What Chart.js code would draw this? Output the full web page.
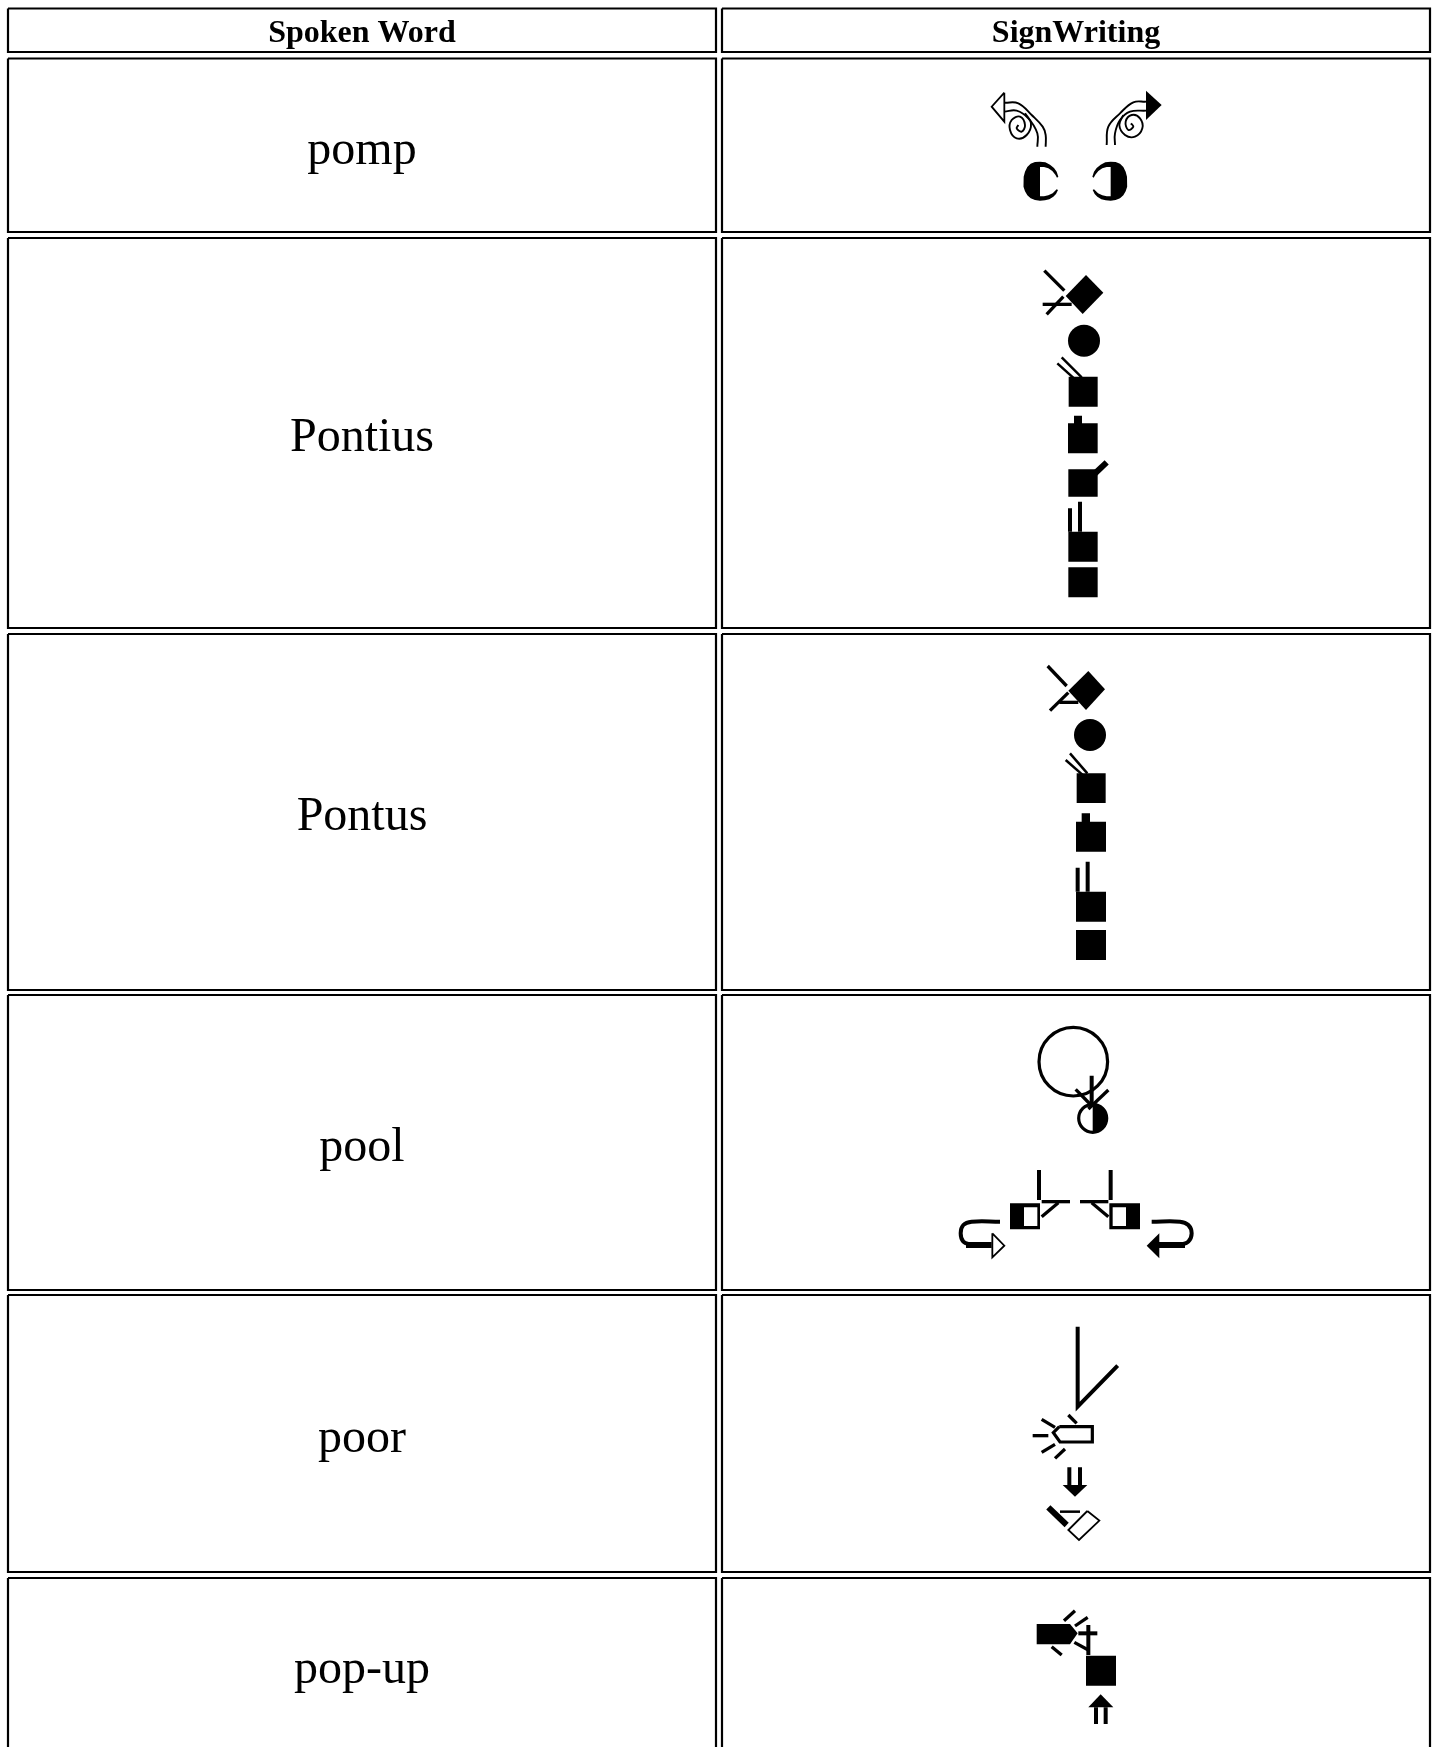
<!DOCTYPE html>
<html lang="en">
<head>
    <meta charset="UTF-8">
    <title>Spoken Word / SignWriting</title>
    <script src="https://cdn.jsdelivr.net/npm/chart.js"></script>
    <style>
        html, body { margin: 0; padding: 0; background: #fff; }
        canvas { display: block; }
    </style>
</head>
<body>
    <canvas id="signChart" width="1435" height="1747"></canvas>

    <script>
        // table text
        const headers = ['Spoken Word', 'SignWriting'];
        const words = ['pomp', 'Pontius', 'Pontus', 'pool', 'poor', 'pop-up'];
        const headerBaseline = 41.5;
        const wordBaselines = [164, 451, 830, 1161, 1452, 1683];

        // cell edges, last row runs off the page
        const colLeft = [8, 722];
        const colRight = [716, 1430];
        const rowTop = [8.5, 58.5, 238, 634, 995, 1295, 1578];
        const rowBottom = [52, 232, 628, 990, 1290, 1572, 1790];

        function c(ox, oy, ...n) {
            const pts = [];
            for (let i = 0; i < n.length; i += 2) pts.push([ox + n[i] / 3, oy + n[i + 1] / 3]);
            return pts;
        }
        function r(ox, oy, x1, y1, x2, y2) {
            return c(ox, oy, x1, y1, x2, y1, x2, y2, x1, y2);
        }

        const solidShapes = [
            // pomp
            c(960, 70, 558, 62, 605, 105, 558, 150),
            c(960, 70, 240, 275, 225, 276, 212, 281, 202, 291, 195, 305, 191, 320, 190, 335, 191, 350, 195, 364, 202, 376, 212, 385, 225, 390, 240, 392, 255, 391, 268, 388, 280, 380, 288, 372, 294, 360, 290, 358, 278, 370, 265, 376, 252, 379, 240, 379, 240, 291, 252, 291, 265, 295, 277, 303, 286, 314, 291, 323, 295, 320, 290, 305, 282, 294, 270, 284, 256, 277),
            c(960, 70, 452, 275, 467, 276, 480, 281, 490, 291, 497, 305, 501, 320, 502, 335, 501, 350, 497, 364, 490, 376, 480, 385, 467, 390, 452, 392, 437, 391, 424, 388, 412, 380, 404, 372, 398, 360, 402, 358, 414, 370, 427, 376, 440, 379, 452, 379, 452, 291, 440, 291, 427, 295, 415, 303, 406, 314, 401, 323, 397, 320, 402, 305, 410, 294, 422, 284, 436, 277),
            // Pontius
            c(1000, 250, 258, 75, 310, 128, 248, 192, 197, 138),
            r(1000, 250, 206, 380, 293, 470),
            r(1000, 250, 222, 497, 246, 525),
            r(1000, 250, 204, 520, 293, 610),
            r(1000, 430, 205, 118, 293, 200),
            r(1000, 430, 205, 305, 293, 395),
            r(1000, 430, 205, 412, 293, 502),
            // Pontus
            c(1000, 650, 265, 63, 315, 118, 258, 180, 205, 122),
            r(1000, 650, 230, 370, 317, 459),
            r(1000, 800, 245, 40, 270, 70),
            r(1000, 800, 228, 65, 318, 155),
            r(1000, 800, 228, 275, 318, 365),
            r(1000, 800, 228, 390, 318, 480),
            // pool, half of the small circle
            c(1010, 1010, 248, 281, 266, 284, 281, 295, 290, 310, 292, 325, 290, 340, 281, 355, 266, 366, 248, 369),
            r(940, 1150, 210, 160, 300, 238),
            r(940, 1150, 508, 160, 600, 238),
            c(940, 1150, 658, 250, 620, 287, 658, 325),
            // poor
            c(1010, 1430, 158, 165, 232, 165, 195, 200),
            // pop-up
            c(1010, 1600, 80, 72, 180, 72, 203, 100, 180, 133, 80, 133),
            r(1010, 1600, 228, 167, 318, 257),
            c(1010, 1600, 235, 322, 272, 283, 310, 322)
        ];

        const whiteShapes = [
            r(940, 1150, 252, 172, 292, 228),
            r(940, 1150, 518, 172, 558, 228)
        ];

        // white inside, thin outline
        const outlinedShapes = [
            c(960, 70, 133, 68, 95, 110, 133, 155),
            c(940, 1150, 157, 250, 193, 287, 157, 322),
            c(1010, 1430, 232, 243, 268, 272, 207, 330, 175, 300)
        ];
        const outlinedHeavy = [
            c(1010, 1310, 148, 350, 247, 350, 247, 396, 150, 396, 130, 368)
        ];

        const thinCurves = [
            // left turn of the pomp arrow
            c(960, 70, 133, 98, 175, 100, 215, 135, 248, 170, 257, 195, 257, 230),
            c(960, 70, 133, 125, 170, 122, 205, 145, 232, 190, 232, 230),
            c(960, 70, 195, 130, 213, 160, 200, 195, 170, 205, 150, 180, 155, 150, 180, 140, 195, 165, 185, 185, 170, 175, 175, 165),
            // right turn
            c(960, 70, 558, 95, 520, 97, 480, 130, 445, 170, 440, 225),
            c(960, 70, 558, 122, 510, 125, 480, 150, 465, 190, 465, 225),
            c(960, 70, 490, 135, 478, 165, 495, 195, 525, 200, 547, 175, 540, 145, 515, 135, 497, 155, 505, 180, 520, 170, 513, 160)
        ];

        const thinLines = [
            c(1000, 250, 172, 340, 222, 385),
            c(1000, 250, 185, 322, 245, 382),
            c(1000, 650, 197, 330, 247, 374),
            c(1000, 650, 210, 310, 262, 370),
            c(1010, 1430, 150, 245, 210, 245)
        ];

        const midLines = [
            c(1000, 250, 133, 62, 193, 122),
            c(1000, 250, 128, 163, 215, 163),
            c(1000, 250, 140, 193, 190, 140),
            c(1000, 650, 143, 48, 200, 108),
            c(1000, 650, 150, 182, 205, 128),
            c(1000, 650, 178, 157, 235, 157),
            c(1010, 1010, 197, 238, 240, 282),
            c(1010, 1010, 295, 240, 235, 297),
            c(940, 1150, 305, 155, 390, 155),
            c(940, 1150, 305, 200, 355, 158),
            c(940, 1150, 420, 155, 505, 155),
            c(940, 1150, 505, 200, 455, 158),
            c(1010, 1310, 95, 328, 135, 352),
            c(1010, 1310, 175, 315, 200, 340),
            c(1010, 1430, 68, 17, 115, 17),
            c(1010, 1430, 95, 67, 135, 43),
            c(1010, 1430, 135, 85, 165, 57),
            c(1010, 1600, 162, 62, 195, 32),
            c(1010, 1600, 195, 78, 233, 52),
            c(1010, 1600, 193, 127, 235, 150),
            c(1010, 1600, 125, 140, 155, 165)
        ];

        const boldLines = [
            c(1000, 430, 210, 235, 210, 305),
            c(1000, 430, 240, 215, 240, 305),
            c(1000, 800, 233, 203, 233, 275),
            c(1000, 800, 263, 185, 263, 275),
            c(1010, 1010, 245, 197, 245, 290),
            c(940, 1150, 297, 60, 297, 150),
            c(940, 1150, 512, 60, 512, 150),
            c(1010, 1310, 203, 50, 203, 290, 323, 167),
            c(1010, 1430, 178, 112, 178, 165),
            c(1010, 1430, 210, 112, 210, 165),
            c(1010, 1600, 235, 75, 235, 165),
            c(1010, 1600, 205, 100, 262, 100),
            c(1010, 1600, 258, 322, 258, 372),
            c(1010, 1600, 287, 322, 287, 372)
        ];

        const curvedBold = [
            c(940, 1150, 180, 215, 95, 215, 70, 225, 62, 250, 70, 275, 95, 285),
            c(940, 1150, 635, 215, 720, 215, 745, 225, 755, 250, 745, 275, 720, 285)
        ];

        const heavyLines = [
            c(1000, 430, 280, 135, 320, 97),
            c(940, 1150, 78, 285, 155, 285),
            c(940, 1150, 735, 285, 650, 285),
            c(1010, 1430, 115, 232, 170, 285)
        ];

        const discs = [
            [1084, 340.7, 16],
            [1090, 735, 16]
        ];
        const rings = [
            [1073.3, 1061.7, 34.3],
            [1092.7, 1118.3, 14]
        ];

        function toPoints(pts) {
            return pts.map(p => ({ x: p[0], y: p[1] }));
        }

        function closed(pts) {
            return toPoints(pts.concat([pts[0]]));
        }

        function fillSet(pts, color) {
            return { data: closed(pts), showLine: true, fill: 'shape', backgroundColor: color, borderWidth: 0, pointRadius: 0 };
        }

        function lineSet(pts, width, tension) {
            return { data: toPoints(pts), showLine: true, fill: false, borderColor: '#000', borderWidth: width, tension: tension || 0, pointRadius: 0, borderJoinStyle: 'miter' };
        }

        const datasets = [];

        // cells
        rowTop.forEach((top, i) => {
            colLeft.forEach((left, j) => {
                const box = [[left, top], [colRight[j], top], [colRight[j], rowBottom[i]], [left, rowBottom[i]]];
                datasets.push({ data: closed(box), showLine: true, fill: false, borderColor: '#000', borderWidth: 2.2, pointRadius: 0, borderJoinStyle: 'miter' });
            });
        });
        const cellSets = datasets.length;

        solidShapes.forEach(s => datasets.push(fillSet(s, '#000')));
        whiteShapes.forEach(s => datasets.push(fillSet(s, '#fff')));
        discs.forEach(d => datasets.push({ type: 'bubble', data: [{ x: d[0], y: d[1], r: d[2] }], backgroundColor: '#000', borderWidth: 0 }));
        rings.forEach(d => datasets.push({ type: 'bubble', data: [{ x: d[0], y: d[1], r: d[2] }], backgroundColor: 'rgba(0,0,0,0)', borderColor: '#000', borderWidth: 3.2 }));
        outlinedShapes.forEach(s => {
            datasets.push(fillSet(s, '#fff'));
            datasets.push(lineSet(s.concat([s[0]]), 1.8));
        });
        outlinedHeavy.forEach(s => {
            datasets.push(fillSet(s, '#fff'));
            datasets.push(lineSet(s.concat([s[0]]), 3.2));
        });
        thinCurves.forEach(s => datasets.push(lineSet(s, 1.9, 0.4)));
        thinLines.forEach(s => datasets.push(lineSet(s, 2.5)));
        midLines.forEach(s => datasets.push(lineSet(s, 3.3)));
        boldLines.forEach(s => datasets.push(lineSet(s, 4)));
        curvedBold.forEach(s => datasets.push(lineSet(s, 4, 0.4)));
        heavyLines.forEach(s => datasets.push(lineSet(s, 6)));

        // later sets go on top
        datasets.forEach((d, i) => { d.order = -i; });

        // the signs are soft in the original, cells and text are not
        const softSigns = {
            id: 'softSigns',
            afterDatasetDraw(chart, args) {
                if (args.index === cellSets - 1) chart.ctx.filter = 'blur(0.5px)';
            },
            afterDatasetsDraw(chart) {
                chart.ctx.filter = 'none';
            }
        };

        const tableText = {
            id: 'tableText',
            afterDatasetsDraw(chart) {
                const { ctx, scales } = chart;
                const centerX = j => scales.x.getPixelForValue((colLeft[j] + colRight[j]) / 2);
                ctx.save();
                ctx.fillStyle = '#000';
                ctx.textAlign = 'center';
                ctx.textBaseline = 'alphabetic';
                ctx.font = 'bold 32px "Liberation Serif"';
                headers.forEach((h, j) => ctx.fillText(h, centerX(j), scales.y.getPixelForValue(headerBaseline)));
                ctx.font = '48px "Liberation Serif"';
                words.forEach((w, i) => ctx.fillText(w, centerX(0), scales.y.getPixelForValue(wordBaselines[i])));
                ctx.restore();
            }
        };

        new Chart(document.getElementById('signChart').getContext('2d'), {
            type: 'scatter',
            data: { datasets: datasets },
            plugins: [softSigns, tableText],
            options: {
                responsive: false,
                animation: false,
                layout: { padding: 0, autoPadding: false },
                plugins: { legend: { display: false }, tooltip: { enabled: false } },
                scales: {
                    x: { type: 'linear', min: 0, max: 1435, display: false },
                    y: { type: 'linear', min: 0, max: 1747, reverse: true, display: false }
                }
            }
        });
    </script>
</body>
</html>
